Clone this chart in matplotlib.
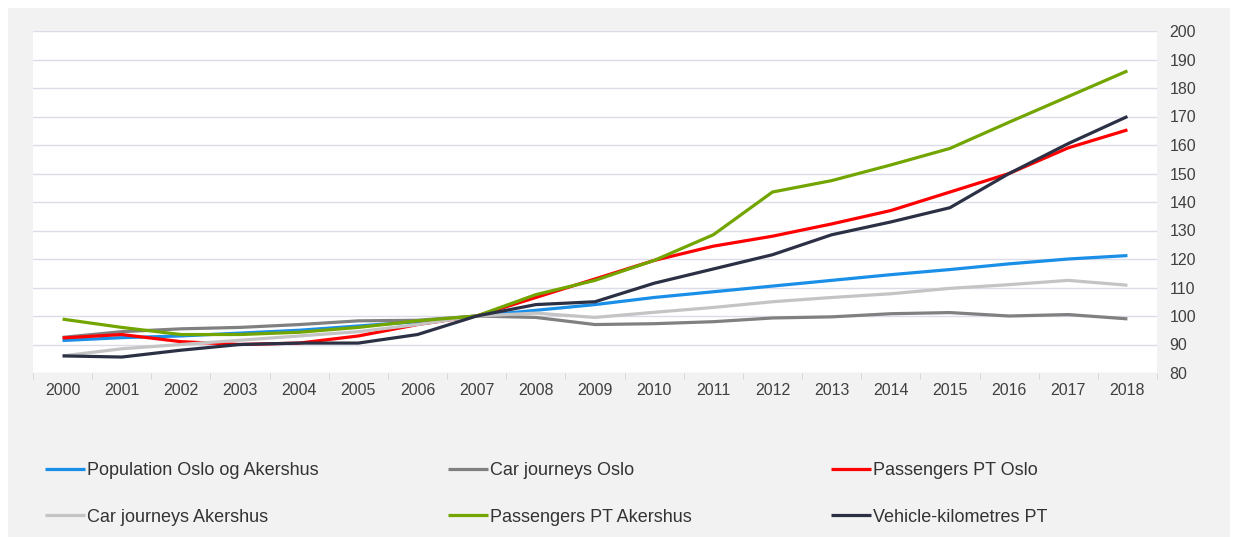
import matplotlib.pyplot as plt
import matplotlib.patches as mpatches
import numpy as np

years = [str(y) for y in range(2000, 2019)]

population = [91.4, 92.4, 93.0, 94.0, 95.0, 96.5, 98.0, 100.0, 102.0, 104.0,
              106.5, 108.5, 110.5, 112.5, 114.5, 116.3, 118.3, 120.0, 121.2]
car_oslo = [92.5, 94.5, 95.5, 96.0, 97.0, 98.3, 98.5, 100.0, 99.5, 97.0,
            97.3, 98.0, 99.3, 99.7, 100.8, 101.2, 100.0, 100.5, 99.0]
pt_oslo = [92.3, 93.5, 91.0, 90.0, 90.5, 93.0, 97.0, 100.0, 106.5, 113.0,
           119.5, 124.5, 128.0, 132.3, 137.0, 143.5, 150.0, 159.0, 165.3]
car_akershus = [86.0, 88.5, 90.0, 91.5, 93.0, 94.5, 97.0, 100.0, 101.0, 99.5,
                101.3, 103.0, 105.0, 106.5, 107.8, 109.7, 111.0, 112.5, 110.8]
pt_akershus = [98.9, 96.0, 93.5, 93.5, 94.3, 96.0, 98.3, 100.0, 107.5, 112.5,
               119.5, 128.5, 143.5, 147.5, 153.0, 158.8, 168.0, 177.0, 186.0]
vehicle_km = [86.0, 85.6, 88.0, 90.0, 90.5, 90.5, 93.5, 100.0, 104.0, 105.0,
              111.5, 116.5, 121.5, 128.5, 133.0, 138.0, 150.0, 160.5, 170.0]

series = [
    ("Population Oslo og Akershus", population, "#1a8fe8"),
    ("Car journeys Oslo", car_oslo, "#808080"),
    ("Passengers PT Oslo", pt_oslo, "#ff0000"),
    ("Car journeys Akershus", car_akershus, "#c4c4c4"),
    ("Passengers PT Akershus", pt_akershus, "#73a500"),
    ("Vehicle-kilometres PT", vehicle_km, "#2b3044"),
]
# drawing order (front to back roughly as in the picture)
draw_order = [3, 1, 0, 2, 5, 4]

fig = plt.figure(figsize=(12.36, 5.37), dpi=100, facecolor="white")
fig.patches.append(mpatches.Rectangle((8 / 1236, 0), 1222 / 1236, 529 / 537,
                                      transform=fig.transFigure,
                                      facecolor="#f2f2f2", edgecolor="none", zorder=-10))

ax = fig.add_axes([33 / 1236, 1 - 373 / 537, 1124 / 1236, 342 / 537])
ax.set_facecolor("white")

x = np.arange(len(years))
lines = {}
for i in draw_order:
    name, vals, col = series[i]
    ln, = ax.plot(x, vals, color=col, lw=2.3, label=name, solid_capstyle="butt", zorder=3 + i)
    lines[i] = ln

ax.set_xlim(-0.5, len(years) - 0.5)
ax.set_ylim(80, 200)
ax.set_yticks(range(80, 201, 10))
ax.yaxis.tick_right()
ax.grid(axis="y", color="#dcdce8", lw=1.0)
ax.set_axisbelow(True)
for s in ax.spines.values():
    s.set_visible(False)

ax.set_xticks(x)
ax.set_xticklabels(years)
ax.set_xticks(np.arange(-0.5, len(years), 1.0), minor=True)
ax.tick_params(axis="x", which="major", length=0, pad=7, labelsize=11.5, labelcolor="#404040")
ax.tick_params(axis="x", which="minor", length=4, color="#d0d0d8")
ax.tick_params(axis="y", length=0, pad=9, labelsize=11.5, labelcolor="#404040")
for lab in ax.get_xticklabels() + ax.get_yticklabels():
    lab.set_family(["Liberation Sans", "DejaVu Sans"])

# legend: three columns of two entries each
col_x = [45, 448, 831]
for c in range(3):
    hs = [lines[c], lines[c + 3]]
    leg = fig.legend(hs, [series[c][0], series[c + 3][0]], loc="upper left",
                     bbox_to_anchor=(col_x[c] / 1236, 1 - 462 / 537),
                     frameon=False, handlelength=2.2, handletextpad=0.15,
                     labelspacing=1.65, borderaxespad=0, borderpad=0,
                     prop={"family": ["Liberation Sans", "DejaVu Sans"], "size": 13})
    for t in leg.get_texts():
        t.set_color("#333333")

fig.savefig("out.png", dpi=100, facecolor="white")
